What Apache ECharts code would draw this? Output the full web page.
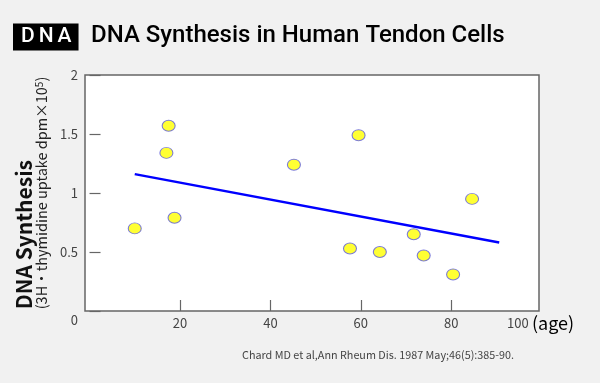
<!DOCTYPE html>
<html><head><meta charset="utf-8">
<script src="https://cdn.jsdelivr.net/npm/echarts@6/dist/echarts.min.js"></script>
<style>html,body{margin:0;padding:0;background:#f1f1f1}#c{width:600px;height:383px}</style>
</head><body><div id="c"></div>
<script>
const ages = [10, 17.5, 17, 18.8, 45.2, 59.5, 57.6, 64.2, 71.7, 73.9, 80.4, 84.6];
const synthesis = [0.70, 1.57, 1.34, 0.79, 1.24, 1.49, 0.53, 0.50, 0.65, 0.47, 0.31, 0.95];
const trendAges = [10, 90.6];
const trendValues = [1.16, 0.58];
const xTickValues = [20, 40, 60, 80];
const yTickValues = [0, 0.5, 1, 1.5, 2];

const chart = echarts.init(document.getElementById('c'), null, {renderer: 'canvas'});
const font = '"Noto Sans CJK JP", "Noto Sans", sans-serif';
chart.setOption({
  backgroundColor: '#f1f1f1',
  animation: false,
  title: [
    {text: '{l|D}{l|N}{l|A}', left: 13, top: 22, backgroundColor: '#000', padding: [3, 5, 3, 6],
     textStyle: {rich: {l: {color: '#fff', fontFamily: 'Roboto', fontWeight: 500, fontSize: 21, lineHeight: 24, padding: [0, 2, 0, 2]}}}},
    {text: 'DNA Synthesis in Human Tendon Cells', left: 91, top: 22, padding: 0,
     textStyle: {color: '#000', fontFamily: 'Roboto', fontWeight: 500, fontSize: 24, lineHeight: 28}},
    {text: 'Chard MD et al,Ann Rheum Dis. 1987 May;46(5):385-90.', left: 242, top: 350, padding: 0,
     textStyle: {color: '#444', fontFamily: font, fontWeight: 'normal', fontSize: 10.8}}
  ],
  grid: {left: 85, top: 75, right: 61, bottom: 72, show: true, backgroundColor: '#fff', borderColor: '#666', borderWidth: 1.5},
  xAxis: {
    type: 'value', min: -1, max: 99.4,
    axisLine: {show: false},
    splitLine: {show: false},
    axisTick: {show: true, inside: true, length: 11, customValues: xTickValues, lineStyle: {color: '#666', width: 1.2}},
    axisLabel: {customValues: xTickValues, color: '#444', fontFamily: font, fontSize: 13, margin: 6},
    name: '{n|100} {a|(age)}', nameLocation: 'end', nameGap: -32,
    nameTextStyle: {padding: [24, 0, 0, 0], rich: {
      n: {color: '#444', fontFamily: font, fontSize: 13},
      a: {color: '#000', fontFamily: font, fontSize: 18}
    }}
  },
  yAxis: {
    type: 'value', min: 0, max: 2, interval: 0.5,
    axisLine: {show: false},
    splitLine: {show: false},
    axisTick: {show: true, inside: true, length: 11, lineStyle: {color: '#666', width: 1.2}},
    axisLabel: {color: '#444', fontFamily: font, fontSize: 13, margin: 7,
      formatter: v => v === 0 ? '{z|0}' : String(v),
      rich: {z: {color: '#444', fontFamily: font, fontSize: 13, padding: [18, 0, 0, 0]}}},
    name: '{t|DNA Synthesis}\n{s|(3H・thymidine uptake dpm×10}{p|5}{s|)}',
    nameLocation: 'middle', nameRotate: 90, nameGap: 36,
    nameTextStyle: {rich: {
      t: {fontFamily: font, fontWeight: 'bold', fontSize: 21, color: '#111', align: 'left', lineHeight: 19},
      s: {fontFamily: font, fontSize: 14.5, color: '#222', align: 'left', lineHeight: 15},
      p: {fontFamily: font, fontSize: 10, color: '#222', align: 'left', verticalAlign: 'top', lineHeight: 15}
    }}
  },
  series: [
    {type: 'line', data: trendAges.map((a, i) => [a, trendValues[i]]), showSymbol: false,
     lineStyle: {color: '#0000ff', width: 2.5}, z: 2},
    {type: 'scatter', data: ages.map((a, i) => [a, synthesis[i]]), symbol: 'circle', symbolSize: [13, 11],
     itemStyle: {color: '#ffff00', borderColor: '#5a5ae0', borderWidth: 1}, z: 3}
  ]
});
</script></body></html>
